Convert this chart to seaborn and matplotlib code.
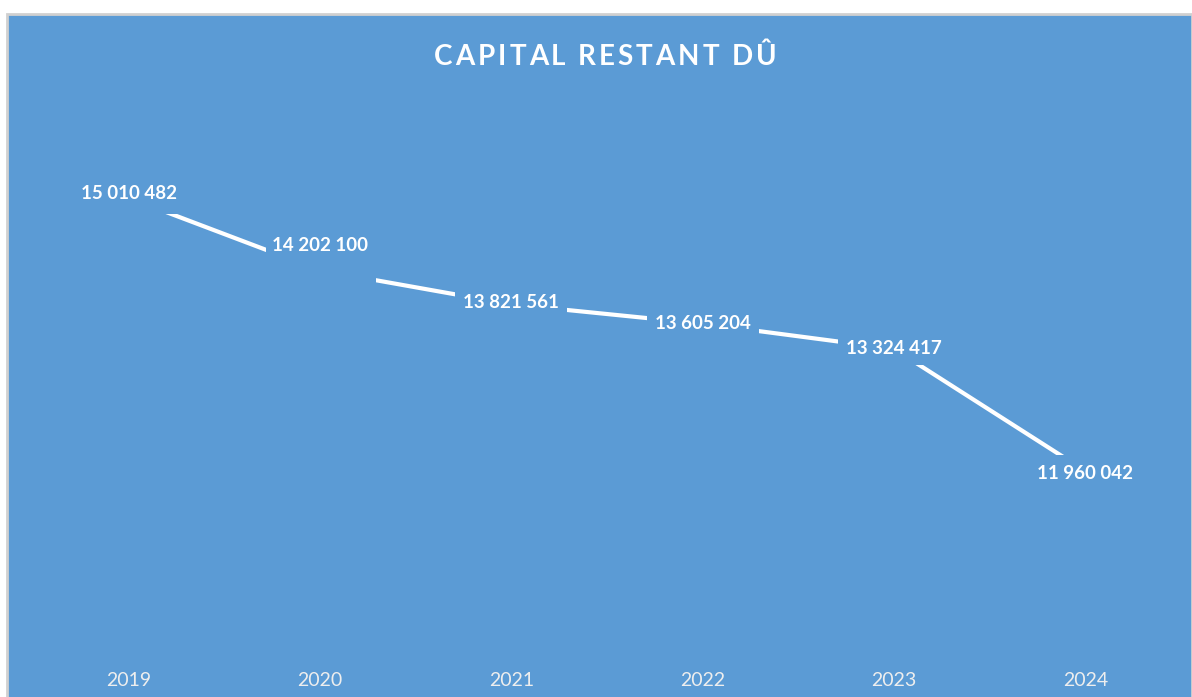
import matplotlib
matplotlib.use("Agg")
import matplotlib.pyplot as plt
import matplotlib.transforms as mtrans
import seaborn as sns
import pandas as pd
from matplotlib.patches import Rectangle

# ---- data ----
years = ["2019", "2020", "2021", "2022", "2023", "2024"]
capital = [15010482, 14202100, 13821561, 13605204, 13324417, 11960042]
title = "CAPITAL RESTANT DÛ"

# label vertical offsets in pixels (style only)
label_offsets = [4, 25, 2, 0, 0, -2]

BG = "#5B9BD5"
W, H = 1192, 697
sns.set_theme(style="white")
plt.rcParams['font.family'] = ['Lato', 'DejaVu Sans']

fig = plt.figure(figsize=(W / 100, H / 100), dpi=100, facecolor="white")
# chart area with light gray border
fig.patches.append(Rectangle((7 / W, -0.01), (W - 7) / W, (H - 14) / H + 0.01,
                             transform=fig.transFigure, facecolor=BG,
                             edgecolor="#D0D0D0", linewidth=2, zorder=-5))

ax = fig.add_axes([33 / W, 37 / H, (1181 - 33) / W, (660 - 120) / H])
ax.set_facecolor("none")
ax.set_zorder(2)

df = pd.DataFrame({"year": years, "capital": capital})
sns.lineplot(data=df, x="year", y="capital", ax=ax, color="white",
             linewidth=3.0, sort=False, zorder=2)

ax.set_xlim(-0.5, len(years) - 0.5)
ax.set_ylim(9.85e6, 15.88e6)

fmt = lambda v: f"{v:,}".replace(",", " ")
bw, bh = 1.12, 0.32  # mask box in inches
for i, v in enumerate(capital):
    txt = fmt(v)
    # mask box at the data point (hides the line around the point)
    tr = fig.dpi_scale_trans + mtrans.ScaledTranslation(i, v, ax.transData)
    ax.add_patch(Rectangle((-bw / 2, -bh / 2), bw, bh, transform=tr,
                           facecolor=BG, edgecolor="none", zorder=3,
                           clip_on=False))
    ax.annotate(txt, (i, v), xytext=(0, label_offsets[i] * 0.72),
                textcoords="offset points", ha="center", va="center",
                fontsize=13.5, fontweight="bold", color="white", zorder=4,
                bbox=dict(boxstyle="square,pad=0.3", fc=BG, ec="none"))

ax.set_xlabel("")
ax.set_ylabel("")
ax.set_yticks([])
ax.tick_params(axis="x", length=0, pad=9, labelsize=14, labelcolor="#EEEEEE")
for s in ax.spines.values():
    s.set_visible(False)

# letter-spaced title
renderer = fig.canvas.get_renderer()
spacing = 3.0  # px between letters
chars = []
widths = []
for ch in title:
    t = fig.text(0, 0, ch, fontsize=20, fontweight="bold", color="white",
                 ha="left", va="center")
    w = t.get_window_extent(renderer).width if ch != " " else 6.5
    chars.append(t)
    widths.append(w)
total = sum(widths) + spacing * (len(title) - 1)
x = 605 - total / 2
for t, w in zip(chars, widths):
    t.set_position((x / W, 1 - 57 / H))
    x += w + spacing

fig.savefig("out.png", dpi=100, facecolor="white")
